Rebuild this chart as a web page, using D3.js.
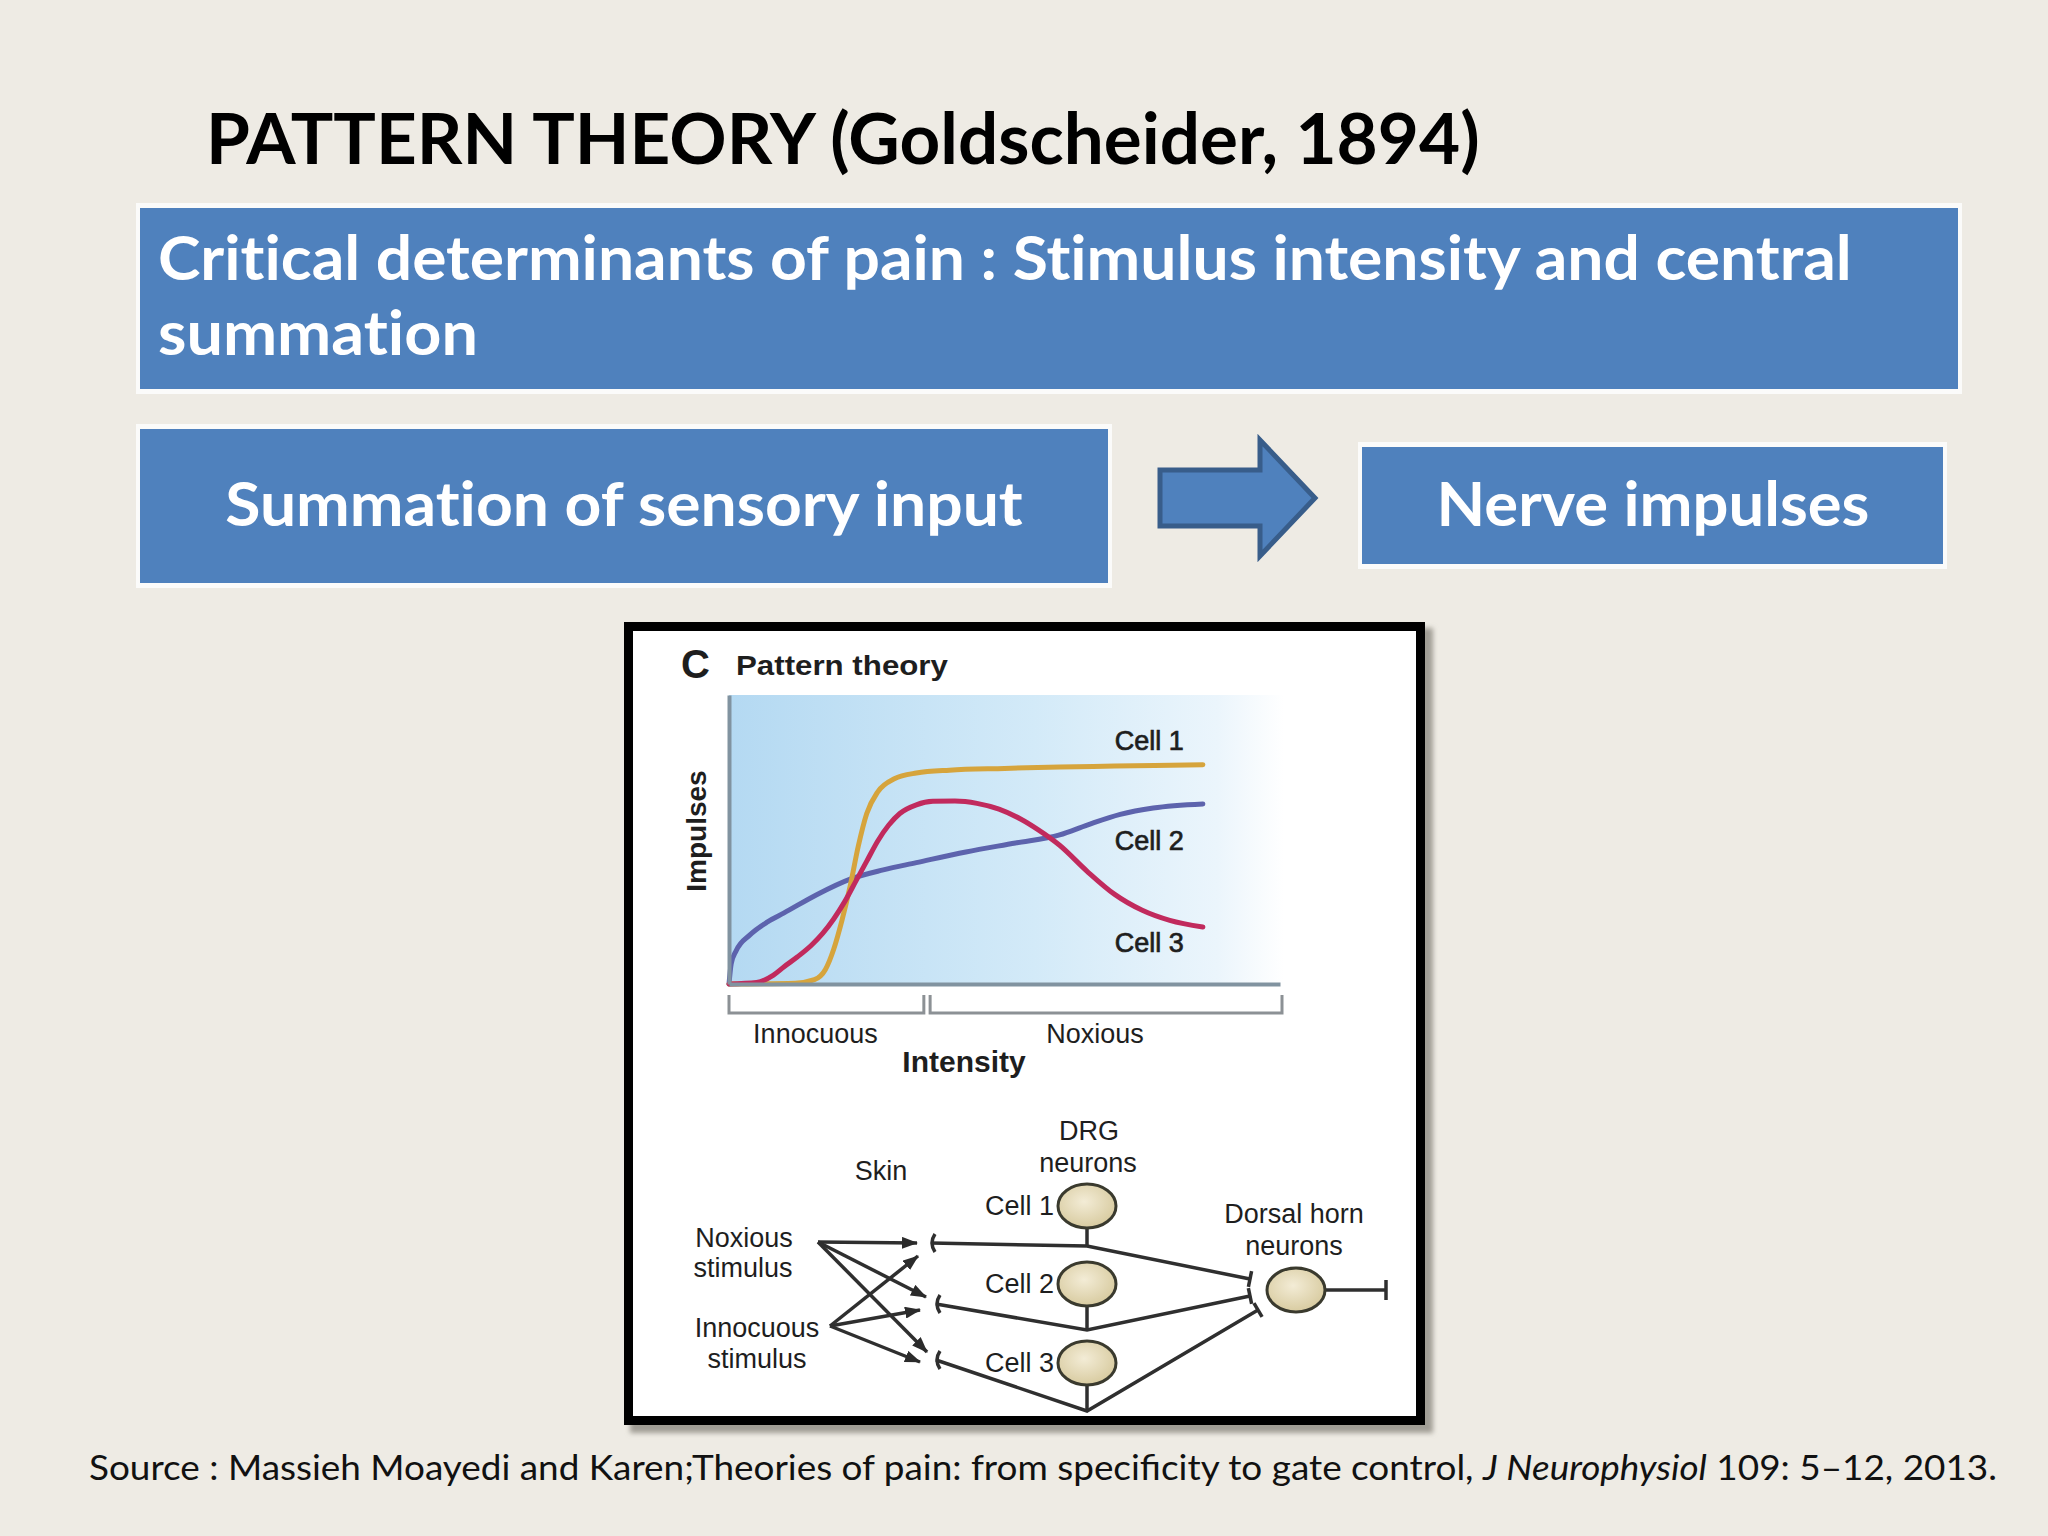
<!DOCTYPE html>
<html>
<head>
<meta charset="utf-8">
<script src="https://cdn.jsdelivr.net/npm/d3@7"></script>
<style>
  body { margin: 0; background: #eeebe4; }
  svg { display: block; }
  .noliga { font-variant-ligatures: none; font-feature-settings: "liga" 0, "dlig" 0; }
</style>
</head>
<body>
<div id="slide"></div>
<script>
// ---- data (intensity %, impulses %) ----
var cell1 = [[0,0],[12,0.3],[15.5,1.5],[17.5,5],[19,12],[20.5,22],[22,34],[23.5,48],[25,59],[27,66.5],[30,71],[34,73],[40,74],[50,74.6],[60,75.1],[70,75.4],[86,75.9]];
var cell2 = [[0,0],[0.4,7],[1.3,11.5],[3.8,17],[7,21.5],[10,24.6],[16,31],[22,36.3],[28,39.5],[34,42],[43,45.7],[52,48.8],[60,51.6],[65,55],[71,58.7],[77,60.9],[86,62.3]];
var cell3 = [[0,0],[5,0.5],[8,3],[10,6],[12.5,9.5],[15,13.5],[17,17.5],[19,22.5],[21,28.5],[23,35.5],[25,42.5],[27,49.5],[29,55],[31,59],[34,62],[37,63.2],[41,63.3],[45,62.5],[49,60.5],[53,57],[56,53.5],[60,48],[65,39],[70,31],[75,25.5],[80,22],[86,19.7]];
var cellNames = ["Cell 1", "Cell 2", "Cell 3"];
var rangeNames = ["Innocuous", "Noxious"];
var rangeBounds = [[0, 35], [36.5, 100]];

var titleText = "PATTERN THEORY (Goldscheider, 1894)";
var headerText = ["Critical determinants of pain : Stimulus intensity and central", "summation"];
var flowText = ["Summation of sensory input", "Nerve impulses"];
var stimulusNames = [["Noxious", "stimulus"], ["Innocuous", "stimulus"]];

var W = 2048, H = 1536;
var slideFont = "Lato, 'Open Sans', sans-serif";
var figFont = "'Liberation Sans', Arial, sans-serif";

var svg = d3.select("#slide").append("svg")
    .attr("width", W)
    .attr("height", H);

var defs = svg.append("defs");

var bg = defs.append("linearGradient").attr("id", "plotbg")
    .attr("x1", 0).attr("x2", 1).attr("y1", 0).attr("y2", 0);
bg.append("stop").attr("offset", "0%").attr("stop-color", "#b4d9f2");
bg.append("stop").attr("offset", "55%").attr("stop-color", "#d3eaf8");
bg.append("stop").attr("offset", "88%").attr("stop-color", "#ebf5fc");
bg.append("stop").attr("offset", "100%").attr("stop-color", "#ffffff");

var cellFill = defs.append("radialGradient").attr("id", "cellfill")
    .attr("cx", "45%").attr("cy", "40%").attr("r", "60%");
cellFill.append("stop").attr("offset", "0%").attr("stop-color", "#f3ecd6");
cellFill.append("stop").attr("offset", "100%").attr("stop-color", "#d8cba0");

defs.append("filter").attr("id", "blur")
    .append("feGaussianBlur").attr("stdDeviation", 2.5);

defs.append("marker").attr("id", "arrow")
    .attr("markerUnits", "userSpaceOnUse")
    .attr("markerWidth", 16).attr("markerHeight", 12)
    .attr("refX", 15).attr("refY", 6)
    .attr("orient", "auto")
    .append("path").attr("d", "M0,0 L16,6 L0,12 Z").attr("fill", "#2b2b2b");

// squeeze a text to the width it has in the picture
function fitWidth(sel, width, ax) {
    var w = sel.node().getBBox().width;
    var s = width / w;
    sel.attr("transform", `translate(${ax},0) scale(${s},1) translate(${-ax},0)`);
}

svg.append("rect").attr("width", W).attr("height", H).attr("fill", "#eeebe4");

// ---- title ----
var title = svg.append("text")
    .attr("x", 206).attr("y", 164)
    .attr("font-family", slideFont).attr("font-weight", 700)
    .attr("font-size", 70).attr("fill", "#000")
    .text(titleText);
fitWidth(title, 1274, 206);

// ---- blue boxes ----
function box(x0, y0, x1, y1) {
    svg.append("rect").attr("x", x0 - 4).attr("y", y0 - 5)
        .attr("width", x1 - x0 + 8).attr("height", y1 - y0 + 10)
        .attr("fill", "#fbfbfa");
    svg.append("rect").attr("x", x0).attr("y", y0)
        .attr("width", x1 - x0).attr("height", y1 - y0)
        .attr("fill", "#4f81bd");
}
box(140, 208, 1958, 389);
box(140, 429, 1108, 583);
box(1362, 447, 1943, 564);

headerText.forEach(function(t, i) {
    var tx = svg.append("text")
        .attr("class", "noliga")
        .attr("x", 158).attr("y", 280 + i * 75)
        .attr("font-family", slideFont).attr("font-weight", 700)
        .attr("font-size", 61).attr("fill", "#fff")
        .text(t);
    if (i == 0) fitWidth(tx, 1694, 158);
    else fitWidth(tx, 320, 158);
});

var flowCenters = [624, 1653], flowWidths = [798, 433];
flowText.forEach(function(t, i) {
    var tx = svg.append("text")
        .attr("class", "noliga")
        .attr("x", flowCenters[i]).attr("y", 526)
        .attr("text-anchor", "middle")
        .attr("font-family", slideFont).attr("font-weight", 700)
        .attr("font-size", 61).attr("fill", "#fff")
        .text(t);
    fitWidth(tx, flowWidths[i], flowCenters[i]);
});

// block arrow
svg.append("path")
    .attr("d", "M1160,470 H1260 V440 L1315,498 L1260,556 V526 H1160 Z")
    .attr("fill", "#4f81bd").attr("stroke", "#385d8a")
    .attr("stroke-width", 5).attr("stroke-linejoin", "miter");

// ---- figure frame ----
svg.append("rect").attr("x", 630).attr("y", 628).attr("width", 803).attr("height", 805)
    .attr("fill", "#a19e95").attr("filter", "url(#blur)");
svg.append("rect").attr("x", 624).attr("y", 622).attr("width", 801).attr("height", 803)
    .attr("fill", "#000");
svg.append("rect").attr("x", 633).attr("y", 631).attr("width", 783).attr("height", 785)
    .attr("fill", "#fff");

var fig = svg.append("g").attr("font-family", figFont).attr("fill", "#1e1e1e");

fig.append("text").attr("x", 681).attr("y", 678)
    .attr("font-size", 40).attr("font-weight", 700).text("C");
var pt = fig.append("text").attr("x", 736).attr("y", 675)
    .attr("font-size", 27).attr("font-weight", 700).text("Pattern theory");
fitWidth(pt, 212, 736);

// ---- the plot ----
var x = d3.scaleLinear().domain([0, 100]).range([729, 1280]);
var y = d3.scaleLinear().domain([0, 100]).range([984, 695]);

fig.append("rect")
    .attr("x", x(0)).attr("y", y(100))
    .attr("width", x(100) - x(0) + 4).attr("height", y(0) - y(100))
    .attr("fill", "url(#plotbg)");

var line = d3.line()
    .x(d => x(d[0]))
    .y(d => y(d[1]))
    .curve(d3.curveMonotoneX);

var cellSeries = [cell1, cell2, cell3];
var cellColors = ["#d6a43c", "#5d63ad", "#c12a5d"];
var drawOrder = [1, 0, 2];

drawOrder.forEach(function(i) {
    fig.append("path")
        .attr("d", line(cellSeries[i]))
        .attr("fill", "none")
        .attr("stroke", cellColors[i])
        .attr("stroke-width", 5)
        .attr("stroke-linecap", "round");
});

// axes: only the domain lines are visible
var xAxis = fig.append("g")
    .attr("transform", `translate(0,${y(0)})`)
    .call(d3.axisBottom(x).ticks(0).tickSizeOuter(0));
var yAxis = fig.append("g")
    .attr("transform", `translate(${x(0)},0)`)
    .call(d3.axisLeft(y).ticks(0).tickSizeOuter(0));
fig.selectAll(".domain").attr("stroke", "#8193a0").attr("stroke-width", 4);

var labelDy = [-15, 46, 25];
cellNames.forEach(function(n, i) {
    var last = cellSeries[i][cellSeries[i].length - 1];
    fig.append("text")
        .attr("x", x(last[0]) - 88)
        .attr("y", y(last[1]) + labelDy[i])
        .attr("font-size", 27)
        .attr("stroke", "#1e1e1e").attr("stroke-width", 0.7)
        .text(n);
});

// intensity range brackets
rangeBounds.forEach(function(b, i) {
    fig.append("path")
        .attr("d", `M${x(b[0])},995 V1013 H${x(b[1]) + 2} V995`)
        .attr("fill", "none")
        .attr("stroke", "#8c9195").attr("stroke-width", 3);
    fig.append("text")
        .attr("x", (x(b[0]) + x(b[1])) / 2 - 10)
        .attr("y", 1043)
        .attr("text-anchor", "middle")
        .attr("font-size", 27)
        .text(rangeNames[i]);
});

fig.append("text").attr("x", 964).attr("y", 1072)
    .attr("text-anchor", "middle")
    .attr("font-size", 30).attr("font-weight", 700)
    .text("Intensity");

fig.append("text")
    .attr("transform", "translate(706,831) rotate(-90)")
    .attr("text-anchor", "middle")
    .attr("font-size", 28).attr("font-weight", 700)
    .text("Impulses");

// ---- wiring diagram ----
var noxSrc = [818, 1242], innSrc = [830, 1326];
var receptors = [[931, 1243], [936, 1304], [936, 1360]];
var noxTips = [[917, 1243], [926, 1297], [927, 1352]];
var innTips = [[918, 1256], [920, 1310], [920, 1362]];
var drg = [[1087, 1206], [1087, 1284], [1087, 1363]];
var junctions = [[1087, 1246], [1087, 1330], [1087, 1411]];
var terminals = [[1250, 1279], [1250, 1296], [1258, 1310]];
var dorsal = [1296, 1290];

var wire = fig.append("g").attr("stroke", "#2f2f2f").attr("stroke-width", 3.5)
    .attr("fill", "none");

noxTips.forEach(function(t) {
    wire.append("line").attr("x1", noxSrc[0]).attr("y1", noxSrc[1])
        .attr("x2", t[0]).attr("y2", t[1]).attr("marker-end", "url(#arrow)");
});
innTips.forEach(function(t) {
    wire.append("line").attr("x1", innSrc[0]).attr("y1", innSrc[1])
        .attr("x2", t[0]).attr("y2", t[1]).attr("marker-end", "url(#arrow)");
});

receptors.forEach(function(r, i) {
    wire.append("path").attr("d", `M${r[0] + 4},${r[1] - 9} Q${r[0] - 2},${r[1]} ${r[0] + 4},${r[1] + 9}`);
    var j = junctions[i], t = terminals[i];
    wire.append("path").attr("d", `M${r[0]},${r[1]} L${j[0]},${j[1]} L${t[0]},${t[1]}`);
    // synapse bar, perpendicular to the last segment
    var dx = t[0] - j[0], dy = t[1] - j[1], L = Math.hypot(dx, dy);
    var nx = -dy / L * 8, ny = dx / L * 8;
    wire.append("line").attr("x1", t[0] + nx).attr("y1", t[1] + ny)
        .attr("x2", t[0] - nx).attr("y2", t[1] - ny);
    // DRG stem
    wire.append("line").attr("x1", drg[i][0]).attr("y1", drg[i][1] + 21)
        .attr("x2", j[0]).attr("y2", j[1]);
});

wire.append("line").attr("x1", dorsal[0] + 29).attr("y1", dorsal[1])
    .attr("x2", 1386).attr("y2", dorsal[1]);
wire.append("line").attr("x1", 1386).attr("y1", dorsal[1] - 10)
    .attr("x2", 1386).attr("y2", dorsal[1] + 10);

drg.concat([dorsal]).forEach(function(c) {
    fig.append("ellipse")
        .attr("cx", c[0]).attr("cy", c[1])
        .attr("rx", 29).attr("ry", 22)
        .attr("fill", "url(#cellfill)")
        .attr("stroke", "#3a3a2e").attr("stroke-width", 3);
});

function label(t, cx, cy, anchor) {
    fig.append("text").attr("x", cx).attr("y", cy)
        .attr("text-anchor", anchor || "middle")
        .attr("font-size", 27)
        .text(t);
}
label(stimulusNames[0][0], 744, 1247);
label(stimulusNames[0][1], 743, 1277);
label(stimulusNames[1][0], 757, 1337);
label(stimulusNames[1][1], 757, 1368);
label("Skin", 881, 1180);
label("DRG", 1089, 1140);
label("neurons", 1088, 1172);
label("Dorsal horn", 1294, 1223);
label("neurons", 1294, 1255);
cellNames.forEach(function(n, i) {
    label(n, 1054, drg[i][1] + 9, "end");
});

// ---- source line ----
var src = svg.append("text")
    .attr("x", 89).attr("y", 1480)
    .attr("font-family", slideFont)
    .attr("font-size", 34).attr("fill", "#111");
src.append("tspan").text("Source : Massieh Moayedi and Karen;Theories of pain: from specificity to gate control, ");
src.append("tspan").attr("font-style", "italic").text("J Neurophysiol");
src.append("tspan").text(" 109: 5\u201312, 2013.");
fitWidth(src, 1909, 89);
</script>
</body>
</html>
